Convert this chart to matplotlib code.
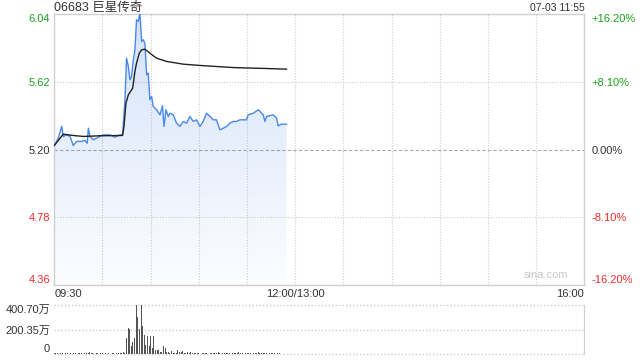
import numpy as np
import matplotlib
matplotlib.use('Agg')
import matplotlib.pyplot as plt
from matplotlib.patches import Polygon

FONT = ['Liberation Sans', 'Noto Sans CJK SC', 'DejaVu Sans']
plt.rcParams['font.family'] = FONT

title = "06683 巨星传奇"
stamp = "07-03 11:55"
prev_close = 5.20
price_ticks = [4.36, 4.78, 5.20, 5.62, 6.04]
price_labels = ["4.36", "4.78", "5.20", "5.62", "6.04"]
pct_labels = ["-16.20%", "-8.10%", "0.00%", "+8.10%", "+16.20%"]
time_grid = [0, 30, 60, 90, 120, 150, 180, 210, 240, 270, 300, 330]
time_ticks = [0, 150, 330]
time_labels = ["09:30", "12:00/13:00", "16:00"]
vol_ticks = [0, 200.35, 400.70]
vol_labels = ["0", "200.35万", "400.70万"]

# minutes since 09:30 (trading minutes) and price
price_t = [0, 2.5, 4.6, 5.6, 7.7, 9.8, 11.8, 13.9, 17, 19.1, 20.5, 21.2, 22.2, 24.3,
           26.3, 28.4, 30.5, 34.6, 37.8, 40.9, 42.5, 44, 45, 46.1, 47.1, 48.1, 49.2,
           50.2, 51.2, 52.3, 53.3, 54.4, 55.4, 56.4, 57.5, 58.5, 59.5, 60.6, 61.6,
           63.7, 65.8, 67.4, 68.3, 69.5, 71, 72, 74.1, 76.1, 78.2, 80.3, 82.4, 84.4,
           86.5, 88.6, 90.7, 92.7, 94.8, 96.9, 99, 101, 103.1, 105.2, 107.3, 109.3,
           111.4, 113.5, 115.6, 119.7, 120.7, 123.9, 127, 128, 130.1, 131.1, 132.2,
           136.3, 138.4, 139.4, 141.5, 144.6]
price_v = [5.225, 5.270, 5.343, 5.281, 5.291, 5.281, 5.225, 5.250, 5.250, 5.256, 5.239,
           5.332, 5.281, 5.260, 5.270, 5.281, 5.291, 5.291, 5.276, 5.291, 5.291, 5.508,
           5.766, 5.715, 5.632, 5.653, 5.756, 5.818, 6.004, 5.994, 6.045, 5.870, 5.880,
           5.859, 5.663, 5.673, 5.508, 5.529, 5.467, 5.446, 5.415, 5.471, 5.343, 5.446,
           5.405, 5.425, 5.415, 5.363, 5.343, 5.374, 5.363, 5.405, 5.374, 5.384, 5.343,
           5.374, 5.425, 5.405, 5.384, 5.384, 5.322, 5.332, 5.343, 5.363, 5.374, 5.374,
           5.384, 5.384, 5.415, 5.425, 5.446, 5.436, 5.415, 5.374, 5.405, 5.415, 5.394,
           5.347, 5.357, 5.357]

avg_t = [0, 5.6, 11.8, 18, 28.4, 42.5, 43.4, 44.6, 46.1, 48.8, 50.2, 51.2, 52.9, 54.4,
         56.4, 59.5, 63.7, 69.9, 80.3, 90.7, 111.4, 132.2, 144.6]
avg_v = [5.225, 5.295, 5.287, 5.281, 5.285, 5.287, 5.343, 5.487, 5.539, 5.580, 5.684,
         5.735, 5.797, 5.818, 5.822, 5.797, 5.766, 5.746, 5.729, 5.721, 5.708, 5.702,
         5.698]

# volume per minute (万), minutes 0..145
volume = [12, 6, 5, 4, 6, 5, 4, 5, 6, 4, 5, 4, 6, 5, 4, 5, 6, 5, 4, 6, 7, 8, 16, 6,
          5, 4, 6, 5, 4, 5, 6, 4, 5, 4, 5, 4, 6, 5, 4, 5, 6, 8, 10,
          20, 8,
          128, 210, 202, 65, 101, 128, 400.7, 305, 202, 400.7, 229, 155, 74, 147, 65,
          147, 46, 147, 33, 33, 33, 19, 19, 65, 46, 19, 14, 5, 25, 5, 10, 5, 33, 19,
          14, 25, 5, 5, 14, 5, 14, 5,
          6, 5, 8, 5, 4, 6, 5, 7, 5, 4, 6, 5, 8, 5, 6, 16, 5, 4, 6, 5, 7, 5, 6, 4,
          5, 8, 6, 5, 16, 6, 5, 4, 6, 5, 8, 5, 4, 6, 5, 7, 14, 6, 5, 8, 6, 5, 4, 6,
          5, 7, 5, 4, 6, 5]
vol_t = np.arange(len(volume))

GREEN = '#19a319'
RED = '#f02b2b'
DARK = '#333333'
GRID = '#cccccc'
BLUE = '#4a88e8'

fig = plt.figure(figsize=(6.4, 3.6), dpi=100)
W, H = 640.0, 360.0
L, R = 54.3, 584.3
ax = fig.add_axes([L / W, 1 - 285 / H, (R - L) / W, (285 - 14) / H])
axv = fig.add_axes([L / W, 1 - 354 / H, (R - L) / W, (354 - 305) / H])

ymin, ymax = price_ticks[0], price_ticks[-1]
ax.set_xlim(0, 330)
ax.set_ylim(ymin, ymax)

# grid
for t in time_grid[1:-1]:
    ax.axvline(t, color=GRID, lw=0.8, ls=(0, (1, 1.5)), zorder=1)
for p in price_ticks[1:-1]:
    if p == prev_close:
        ax.axhline(p, color='#aaaaaa', lw=0.8, ls=(0, (3, 2)), zorder=1)
    else:
        ax.axhline(p, color=GRID, lw=0.8, ls=(0, (1, 1.5)), zorder=1)

# gradient fill
verts = list(zip(price_t, price_v)) + [(price_t[-1], ymin), (price_t[0], ymin)]
poly = Polygon(verts, closed=True, facecolor='none', edgecolor='none')
ax.add_patch(poly)
n = 256
grad = np.zeros((n, 1, 4))
grad[:, 0, 0] = 0.29
grad[:, 0, 1] = 0.53
grad[:, 0, 2] = 0.91
grad[:, 0, 3] = np.linspace(0.24, 0.02, n)
im = ax.imshow(grad, extent=[0, 330, ymin, ymax], aspect='auto', origin='upper',
               zorder=2, interpolation='bilinear')
im.set_clip_path(poly)

ax.plot(price_t, price_v, color=BLUE, lw=1.0, zorder=4)
ax.plot(avg_t, avg_v, color='#222222', lw=1.0, zorder=5)

for s in ax.spines.values():
    s.set_color('#d0d0d0')
    s.set_linewidth(1.0)

ax.set_xticks([])
ax.set_yticks(price_ticks)
ax.set_yticklabels(price_labels)
ax.tick_params(axis='y', length=0, pad=3, labelsize=8)
cols = [RED, RED, DARK, GREEN, GREEN]
for lab, c in zip(ax.get_yticklabels(), cols):
    lab.set_color(c)
ax.get_yticklabels()[-1].set_va('top')
ax.get_yticklabels()[0].set_va('bottom')

ax2 = ax.twinx()
ax2.set_ylim(ymin, ymax)
ax2.set_yticks(price_ticks)
ax2.set_yticklabels(pct_labels)
ax2.tick_params(axis='y', length=0, pad=5, labelsize=8)
for lab, c in zip(ax2.get_yticklabels(), cols):
    lab.set_color(c)
ax2.get_yticklabels()[-1].set_va('top')
ax2.get_yticklabels()[0].set_va('bottom')
for s in ax2.spines.values():
    s.set_visible(False)

# time labels
for t, lab in zip(time_ticks, time_labels):
    ha = 'left' if t == 0 else ('right' if t == 330 else 'center')
    ax.text(t, -0.014, lab, transform=ax.get_xaxis_transform(), ha=ha, va='top',
            fontsize=8, color=DARK)

fig.text(L / W, 1 - 8 / H, title, ha='left', va='center', fontsize=9, color=DARK)
fig.text(R / W, 1 - 8 / H, stamp, ha='right', va='center', fontsize=7.5, color=DARK)
ax.text(0.97, 0.02, 'sina.com', transform=ax.transAxes, ha='right', va='bottom',
        fontsize=8, color='#c8c8c8')

# volume
axv.bar(vol_t, volume, width=0.62, color='#555555', zorder=3)
axv.set_xlim(0, 330)
axv.set_ylim(0, vol_ticks[-1])
for v in vol_ticks:
    axv.axhline(v, color=GRID, lw=1.0, ls=(0, (1, 1.5)), zorder=1, clip_on=False)
for k in ['top', 'left', 'bottom']:
    axv.spines[k].set_visible(False)
axv.spines['right'].set_color('#d0d0d0')
axv.set_xticks([])
axv.set_yticks(vol_ticks)
axv.set_yticklabels(vol_labels)
axv.tick_params(axis='y', length=0, pad=3, labelsize=8, labelcolor=DARK)
axv.get_yticklabels()[-1].set_va('top')
axv.get_yticklabels()[0].set_va('bottom')

fig.savefig('out.png', dpi=100)
